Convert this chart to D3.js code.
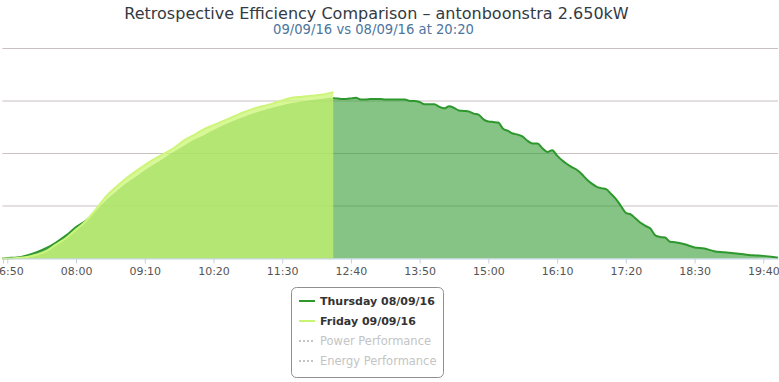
<!DOCTYPE html>
<html>
<head>
<meta charset="utf-8">
<script src="https://cdn.jsdelivr.net/npm/d3@7"></script>
<style>
  body { margin: 0; background: #fff; }
  svg { display: block; font-family: "DejaVu Sans", Verdana, sans-serif; }
</style>
</head>
<body>
<div id="chart"></div>
<script>
// chart data
var titleText = "Retrospective Efficiency Comparison \u2013 antonboonstra 2.650kW";
var subtitleText = "09/09/16 vs 08/09/16 at 20:20";

var tickLabels = ["06:50", "08:00", "09:10", "10:20", "11:30", "12:40",
  "13:50", "15:00", "16:10", "17:20", "18:30", "19:40"];

var thursdayTimes = ["06:45", "06:50", "07:00", "07:10", "07:20", "07:30", "07:40", "07:50",
  "08:00", "08:10", "08:20", "08:30", "08:40", "08:50", "09:00", "09:10", "09:20", "09:30",
  "09:40", "09:50", "10:00", "10:10", "10:20", "10:30", "10:40", "10:50", "11:00", "11:10",
  "11:20", "11:30", "11:40", "11:50", "12:00", "12:10",
  "12:20", "12:25", "12:30", "12:35", "12:40", "12:45", "12:50", "12:55", "13:00", "13:05",
  "13:10", "13:15", "13:20", "13:25", "13:30", "13:35", "13:40", "13:45", "13:50", "13:55",
  "14:00", "14:05", "14:10", "14:15", "14:20", "14:25", "14:30", "14:35", "14:40", "14:45",
  "14:50", "14:55", "15:00", "15:05", "15:10", "15:15", "15:20", "15:25", "15:30", "15:35",
  "15:40", "15:45", "15:50", "15:55", "16:00", "16:05", "16:10", "16:15", "16:20", "16:25",
  "16:30", "16:35", "16:40", "16:45", "16:50", "16:55", "17:00", "17:05", "17:10", "17:15",
  "17:20", "17:25", "17:30", "17:35", "17:40", "17:45", "17:50", "17:55", "18:00", "18:05",
  "18:10", "18:20", "18:30", "18:40", "18:50", "19:00", "19:10", "19:20", "19:30", "19:40",
  "19:50", "19:55"];
var thursdayValues = [0, 0.01, 0.02, 0.06, 0.12, 0.20, 0.31, 0.44,
  0.60, 0.72, 0.90, 1.10, 1.26, 1.42, 1.55, 1.68, 1.80, 1.92,
  2.04, 2.15, 2.26, 2.35, 2.45, 2.54, 2.62, 2.69, 2.76, 2.82,
  2.87, 2.92, 2.96, 2.99, 3.02, 3.04,
  3.06, 3.05, 3.04, 3.04, 3.05, 3.06, 3.03, 3.03, 3.04, 3.04,
  3.04, 3.03, 3.03, 3.03, 3.03, 3.03, 3.00, 3.00, 2.98, 2.94,
  2.94, 2.94, 2.89, 2.86, 2.90, 2.87, 2.82, 2.81, 2.80, 2.76,
  2.74, 2.65, 2.61, 2.60, 2.59, 2.47, 2.43, 2.38, 2.36, 2.32,
  2.24, 2.19, 2.19, 2.10, 2.03, 2.06, 1.96, 1.87, 1.80, 1.74,
  1.69, 1.61, 1.51, 1.43, 1.37, 1.34, 1.32, 1.23, 1.13, 1.00,
  0.87, 0.84, 0.76, 0.68, 0.62, 0.57, 0.44, 0.41, 0.40, 0.32,
  0.31, 0.27, 0.21, 0.19, 0.14, 0.12, 0.10, 0.08, 0.06, 0.05,
  0.03, 0.015];

var fridayTimes = ["06:45", "06:50", "07:00", "07:10", "07:20", "07:30", "07:40", "07:50",
  "08:00", "08:10", "08:20", "08:30", "08:40", "08:50", "09:00", "09:10", "09:20", "09:30",
  "09:40", "09:50", "10:00", "10:10", "10:20", "10:30", "10:40", "10:50", "11:00", "11:10",
  "11:20", "11:30", "11:40", "11:50", "12:00", "12:10", "12:20", "12:22"];
var fridayValues = [0, 0, 0.01, 0.03, 0.07, 0.14, 0.27, 0.39,
  0.55, 0.71, 0.93, 1.17, 1.35, 1.51, 1.65, 1.78, 1.90, 2.00,
  2.11, 2.25, 2.35, 2.46, 2.54, 2.62, 2.70, 2.78, 2.85, 2.90,
  2.95, 3.01, 3.06, 3.08, 3.10, 3.12, 3.16, 3.17];

var legendItems = ["Thursday 08/09/16", "Friday 09/09/16", "Power Performance", "Energy Performance"];

var svgWidth = 779;
var svgHeight = 382;

function toMinutes(s) {
  var p = s.split(":");
  return +p[0] * 60 + +p[1];
}

var thursday = thursdayTimes.map(function(t, i) { return { t: toMinutes(t), v: thursdayValues[i] }; });
var friday = fridayTimes.map(function(t, i) { return { t: toMinutes(t), v: fridayValues[i] }; });

var svg = d3.select("#chart")
  .append("svg")
  .attr("width", svgWidth)
  .attr("height", svgHeight);

// scales
var xScale = d3.scaleLinear()
  .domain([toMinutes("06:45"), toMinutes("19:55")])
  .range([2.4, 778]);

var yScale = d3.scaleLinear()
  .domain([0, 4])
  .range([258.5, 48.5]);

// fit a text to a measured width by scaling its font size
function fitWidth(sel, target) {
  var w = sel.node().getComputedTextLength();
  var fs = parseFloat(sel.attr("font-size"));
  sel.attr("font-size", (fs * target / w).toFixed(2));
}

// title + subtitle
var title = svg.append("text")
  .attr("x", 376.5)
  .attr("y", 18.5)
  .attr("text-anchor", "middle")
  .attr("font-size", 17)
  .attr("fill", "#333a44")
  .text(titleText);
fitWidth(title, 505);

var subtitle = svg.append("text")
  .attr("x", 373.5)
  .attr("y", 33.5)
  .attr("text-anchor", "middle")
  .attr("font-size", 12)
  .attr("fill", "#4d759e")
  .text(subtitleText);
fitWidth(subtitle, 201);

// gridlines
svg.append("g")
  .selectAll("line")
  .data(yScale.ticks(4).filter(function(d) { return d > 0; }))
  .enter()
  .append("line")
  .attr("x1", xScale.range()[0])
  .attr("x2", xScale.range()[1])
  .attr("y1", function(d) { return yScale(d); })
  .attr("y2", function(d) { return yScale(d); })
  .attr("stroke", "#c9c0c0")
  .attr("stroke-width", 1);

var area = d3.area()
  .x(function(d) { return xScale(d.t); })
  .y0(yScale(0))
  .y1(function(d) { return yScale(d.v); })
  .curve(d3.curveMonotoneX);

var line = d3.line()
  .x(function(d) { return xScale(d.t); })
  .y(function(d) { return yScale(d.v); })
  .curve(d3.curveMonotoneX);

// mask that hides the thursday line where friday's area covers it
var defs = svg.append("defs");
var mask = defs.append("mask").attr("id", "notFriday");
mask.append("rect").attr("width", svgWidth).attr("height", svgHeight).attr("fill", "#fff");
mask.append("path").attr("d", area(friday)).attr("fill", "#000");

// thursday
svg.append("path")
  .attr("d", area(thursday))
  .attr("fill", "rgb(46,154,46)")
  .attr("fill-opacity", 0.58);

// friday
svg.append("path")
  .attr("d", area(friday))
  .attr("fill", "rgb(199,245,108)")
  .attr("fill-opacity", 0.7);

svg.append("path")
  .attr("d", line(thursday))
  .attr("fill", "none")
  .attr("stroke", "#2e982e")
  .attr("stroke-width", 2)
  .attr("mask", "url(#notFriday)");

svg.append("path")
  .attr("d", line(friday))
  .attr("fill", "none")
  .attr("stroke", "#cdf57a")
  .attr("stroke-width", 2);

// x axis
var xAxis = d3.axisBottom(xScale)
  .tickValues(tickLabels.map(toMinutes))
  .tickFormat(function(d, i) { return tickLabels[i]; })
  .tickSizeInner(5)
  .tickSizeOuter(0)
  .tickPadding(4);

var axisG = svg.append("g")
  .attr("transform", "translate(0, 258.5)")
  .call(xAxis);

axisG.select(".domain").attr("stroke", "#c0d0e0");
axisG.selectAll(".tick line").attr("stroke", "#c0d0e0");
axisG.selectAll(".tick text")
  .attr("fill", "#555")
  .attr("font-size", 11)
  .attr("font-family", "DejaVu Sans, Verdana, sans-serif");

axisG.append("line")
  .attr("x1", 3.5).attr("x2", 3.5)
  .attr("y1", 0).attr("y2", 5)
  .attr("stroke", "#c0d0e0");

// legend
var legend = svg.append("g");
legend.append("rect")
  .attr("x", 291.5)
  .attr("y", 287.5)
  .attr("width", 152)
  .attr("height", 90)
  .attr("rx", 5)
  .attr("fill", "#fff")
  .attr("stroke", "#909090");

var legendColors = ["#2e982e", "#c8f56e", "#c4c4c4", "#c4c4c4"];

legendItems.forEach(function(name, i) {
  var y = 301 + i * 20;
  var hidden = i > 1;
  legend.append("line")
    .attr("x1", 299).attr("x2", 315)
    .attr("y1", y).attr("y2", y)
    .attr("stroke", legendColors[i])
    .attr("stroke-width", 2)
    .attr("stroke-dasharray", hidden ? "2,2" : null);
  var t = legend.append("text")
    .attr("x", 320)
    .attr("y", y + 4)
    .attr("font-size", 11)
    .attr("font-weight", hidden ? "normal" : "bold")
    .attr("fill", hidden ? "#c4c4c4" : "#333")
    .text(name);
  if (i === 0) fitWidth(t, 115);
  if (i === 2) fitWidth(t, 111);
  if (i === 1) t.attr("font-size", legend.select("text").attr("font-size"));
  if (i === 3) t.attr("font-size", legend.selectAll("text").nodes()[2].getAttribute("font-size"));
});
</script>
</body>
</html>
